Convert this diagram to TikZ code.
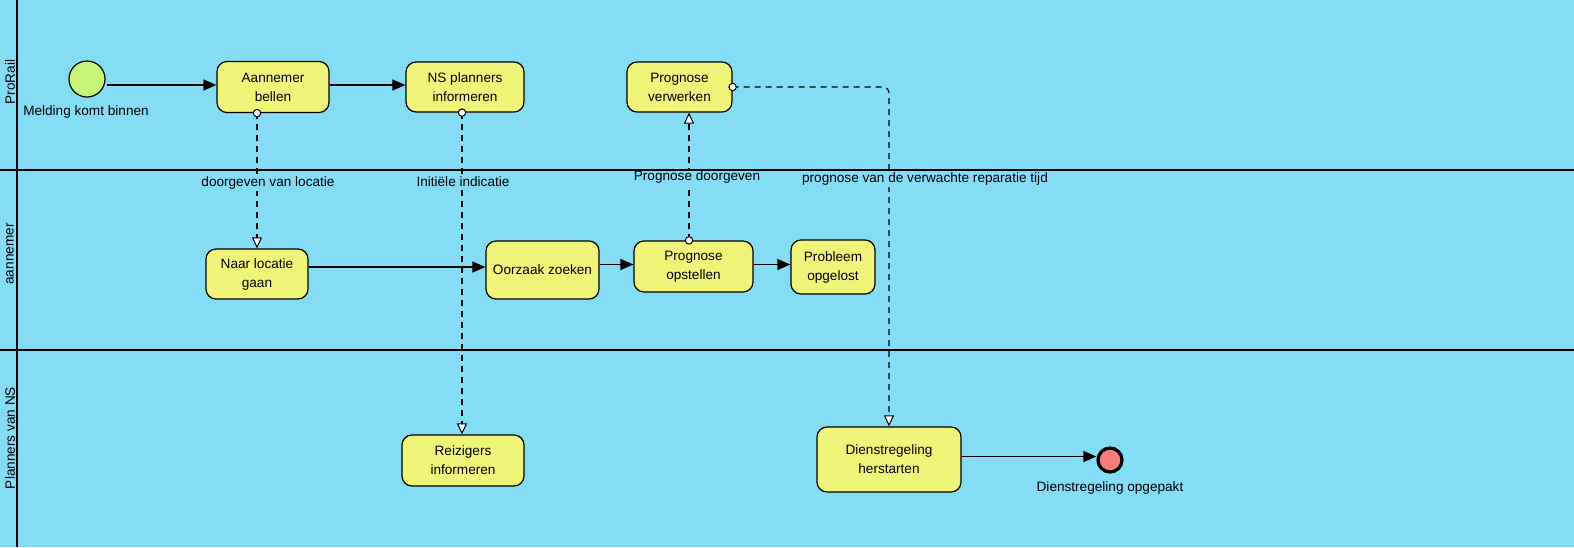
\documentclass[tikz,border=0pt]{standalone}
\usepackage{fontspec}
\setmainfont{Liberation Sans}
\usetikzlibrary{arrows.meta}
\definecolor{bgblue}{RGB}{133,220,245}
\definecolor{taskfill}{RGB}{240,245,122}
\definecolor{startfill}{RGB}{200,245,120}
\definecolor{endfill}{RGB}{245,125,125}
\begin{document}
\begin{tikzpicture}[x=1pt,y=-1pt,
  txt/.style={font=\fontsize{13.6}{19}\selectfont, inner sep=0pt, align=center},
  task/.style={txt, draw=black, line width=1.2pt, fill=taskfill, rounded corners=10pt, rectangle},
  flow/.style={line width=1.2pt, -{Triangle[length=13pt,width=11pt]}},
  msg/.style={line width=1.2pt, dash pattern=on 6pt off 5pt, -{Triangle[open,fill=white,length=11pt,width=10pt,line width=1pt]}},
  msgdot/.style={draw=black, fill=white, line width=1pt},
  mlbl/.style={txt, fill=bgblue, inner sep=1.5pt},
  lane/.style={txt, rotate=90}
]
\useasboundingbox (0,0) rectangle (1574,547);
\fill[bgblue] (0,0) rectangle (1574,547);
% lane labels
\node[lane] (l1) at (10,82) {ProRail};
\node[lane] (l2) at (10,254) {aannemer};
\node[lane] (l3) at (10,438) {Planners van NS};
% events
\node[circle, draw=black, line width=1.2pt, fill=startfill, minimum size=36pt, inner sep=0pt] (start) at (87,79) {};
\node[txt] (startlbl) at (86,112) {Melding komt binnen};
\node[circle, draw=black, line width=3.2pt, fill=endfill, minimum size=24pt, inner sep=0pt] (end) at (1110,460) {};
\node[txt] (endlbl) at (1110,488) {Dienstregeling opgepakt};
% tasks
\node[task, minimum width=112pt, minimum height=51pt] (ab) at (273,87) {Aannemer\\bellen};
\node[task, minimum width=118pt, minimum height=50pt] (nsp) at (465,87) {NS planners\\informeren};
\node[task, minimum width=105pt, minimum height=50pt] (pv) at (679.5,87) {Prognose\\verwerken};
\node[task, minimum width=102pt, minimum height=50pt] (nlg) at (257,274) {Naar locatie\\gaan};
\node[task, minimum width=113pt, minimum height=58pt] (oz) at (542.5,270) {Oorzaak zoeken};
\node[task, minimum width=119pt, minimum height=51pt] (po) at (693.5,266.5) {Prognose\\opstellen};
\node[task, minimum width=84pt, minimum height=54pt] (pb) at (833,267) {Probleem\\opgelost};
\node[task, minimum width=122pt, minimum height=51pt] (rz) at (463,460.5) {Reizigers\\informeren};
\node[task, minimum width=144pt, minimum height=65pt] (dh) at (889,459.5) {Dienstregeling\\herstarten};
% message flows
\draw[msg] (ab.south -| nlg.north) -- (nlg.north);
\coordinate (xn) at (462,0);
\draw[msg] (nsp.south -| xn) -- (rz.north -| xn);
\coordinate (xp) at (689,0);
\draw[msg] (po.north -| xp) -- (pv.south -| xp);
\draw[msg, rounded corners=6pt] (pv.east) -- (pv.east -| dh.north) -- (dh.north);
% message labels
\node[mlbl] (m1) at (268,183) {doorgeven van locatie};
\node[mlbl] (m2) at (463,182) {Initiële indicatie};
\node[mlbl] (m3) at (697,177) {Prognose doorgeven};
\node[mlbl] (m4) at (925,179) {prognose van de verwachte reparatie tijd};
\draw[msgdot] (ab.south -| nlg.north) circle (3.7pt);
\draw[msgdot] (nsp.south -| xn) circle (3.7pt);
\draw[msgdot] (po.north -| xp) circle (3.7pt);
\draw[msgdot] (pv.east) circle (3.7pt);
% sequence flows
\coordinate (s1) at (107,85);
\draw[flow] (s1) -- (s1 -| ab.west);
\draw[flow] ([yshift=2pt]ab.east) -- ([yshift=2pt]ab.east -| nsp.west);
\draw[flow] ([yshift=7pt]nlg.east) -- ([yshift=7pt]nlg.east -| oz.west);
\draw[flow] ([yshift=2pt]po.west -| oz.east) -- ([yshift=2pt]po.west);
\draw[flow] ([yshift=2pt]po.east) -- ([yshift=2pt]po.east -| pb.west);
\draw[flow] ([yshift=3pt]dh.east) -- ([yshift=3pt]dh.east -| end.west);
% lane lines (on top)
\draw[line width=1.3pt] (17,0) -- (17,547);
\draw[line width=1.6pt] (0,170) -- (1574,170);
\draw[line width=2pt] (0,350) -- (1574,350);
\end{tikzpicture}
\end{document}
